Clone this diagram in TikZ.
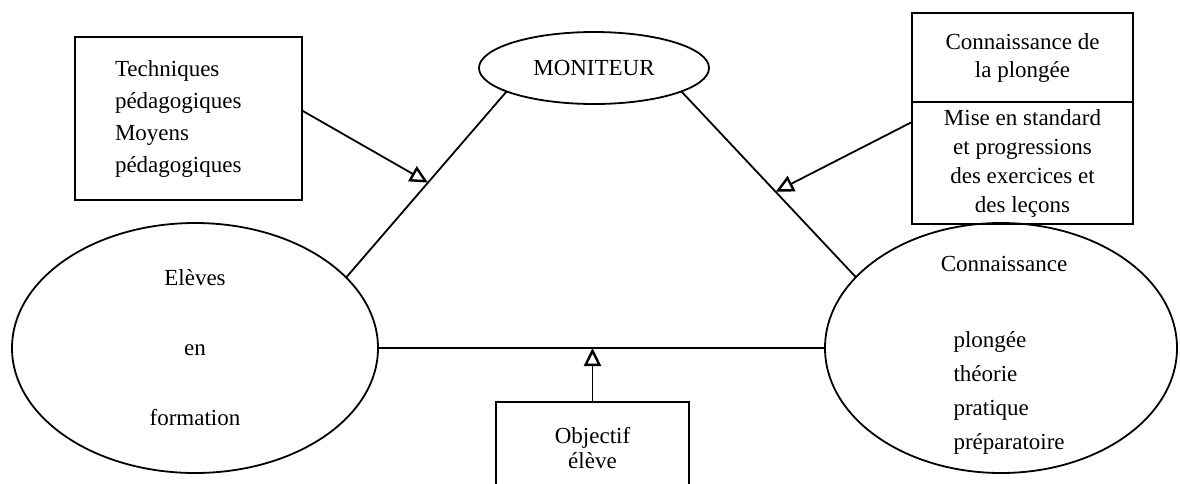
\documentclass[tikz,border=0pt]{standalone}
\usepackage{fontspec}
\setmainfont{Liberation Serif}
\usetikzlibrary{shapes.geometric,arrows.meta,positioning}

\begin{document}
\begin{tikzpicture}[x=1pt, y=-1pt,
  box/.style={draw, line width=1.8pt, inner sep=0pt, outer sep=0pt},
  bulle/.style={draw, ellipse, line width=1.8pt, inner sep=0pt, outer sep=0pt},
  trait/.style={line width=1.8pt},
  fleche/.style={trait, -{Triangle[open,length=18pt,width=17pt,line width=2.4pt]}},
  every node/.style={font=\fontsize{23}{30}\selectfont}]
\useasboundingbox (0,0) rectangle (1180,483);
\node [box, minimum width=227pt, minimum height=163pt, text width=147pt, align=left,
  font=\fontsize{23}{32}\selectfont] (tech) at (188.5,118.5) {Techniques\\pédagogiques\\Moyens\\pédagogiques};
\node [bulle, minimum width=230pt, minimum height=72pt] (mon) at (594,68) {MONITEUR};
\node [box, minimum width=221pt, minimum height=89pt, align=center,
  font=\fontsize{23}{28}\selectfont] (plong) at (1022.5,57.5) {Connaissance de\\la plongée};
\node [box, minimum width=221pt, minimum height=122pt, align=center,
  font=\fontsize{23}{29}\selectfont, below=0pt of plong] (mise) {Mise en standard\\et progressions\\des exercices et\\des leçons};
\node [bulle, minimum width=366pt, minimum height=250pt, align=center,
  font=\fontsize{23}{70}\selectfont] (eleves) at (195,348) {Elèves\\en\\formation};
\node [bulle, minimum width=352pt, minimum height=250pt] (conn) at (1001,348) {};
\node (conntitre) at (1004,264) {Connaissance};
\node [align=left, anchor=west, font=\fontsize{23}{34}\selectfont] (conndom) at (950,393) {plongée\\théorie\\pratique\\préparatoire};
\node [box, minimum width=193pt, minimum height=92pt, align=center,
  font=\fontsize{23}{25}\selectfont] (obj) at (592.5,448) {Objectif\\élève};
\draw [trait] (mon.195) -- coordinate[pos=.49] (pl) (eleves.25);
\draw [trait] (mon.-15) -- coordinate[pos=.54] (pr) (conn.154);
\draw [trait] (eleves.east) -- (conn.west);
\draw [fleche] ([yshift=8pt]tech.east) -- (pl);
\draw [fleche] ([yshift=-20pt]mise.north west) -- (pr);
\draw [fleche] (obj.north) -- (obj.north |- eleves.east);
\end{tikzpicture}
\end{document}
